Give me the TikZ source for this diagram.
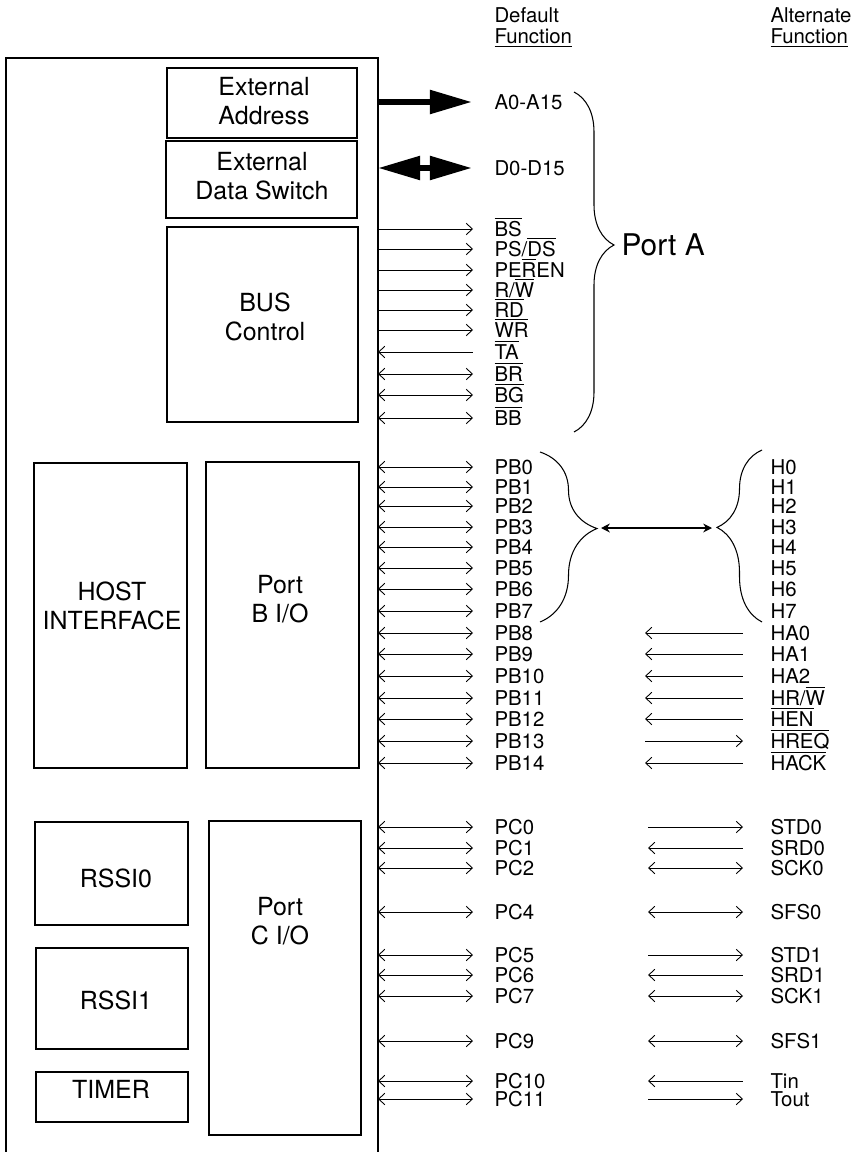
\documentclass[tikz,border=0pt]{standalone}
\usepackage{fontspec}
\setmainfont{TeX Gyre Heros}
\usetikzlibrary{arrows.meta,decorations.pathreplacing}
\newcommand{\ovl}[1]{$\overline{\mbox{#1}}$}
\tikzset{
  >={Straight Barb[length=3.5pt,width=6.5pt]},
  fw/.style={->,line width=0.5pt},
  bw/.style={<-,line width=0.5pt},
  bi/.style={<->,line width=0.5pt},
  sig/.style={anchor=west,inner sep=0pt,text height=8pt,text depth=0pt,font=\fontsize{11.6}{12}\selectfont},
  hdr/.style={anchor=north west,inner sep=0pt,align=left,font=\fontsize{11.6}{12}\selectfont},
  blk/.style={align=center,inner sep=0pt,font=\fontsize{14.2}{16.5}\selectfont},
  bigtip/.tip={Triangle[length=24pt,width=13pt]},
  brc/.style args={#1/#2}{decorate,decoration={brace,amplitude=#1,aspect=#2},line width=0.6pt},
}
\begin{document}
\begin{tikzpicture}[x=0.02cm,y=-0.02cm,line width=0.6pt]
  \useasboundingbox (0,0) rectangle (858,1152);
  \draw (6,1152) -- (6,58) -- (378,58) -- (378,1152);
  \coordinate (edge) at (378,0);
  \coordinate (altx) at (770,0);
  \node[hdr] (dflt) at (494,7) {Default\\\underline{Function}};
  \node[hdr] (altf) at (770,7) {Alternate\\\underline{Function}};
  % blocks inside the chip
  \draw (167,68) rectangle (357,138);  \node[blk] (extA) at (264,101) {External\\Address};
  \draw (166,141) rectangle (357,218); \node[blk] (extD) at (262,176) {External\\Data Switch};
  \draw (167,227) rectangle (358,422); \node[blk] (bus) at (265,317) {BUS\\Control};
  \draw (34,463) rectangle (187,768);  \node[blk] (host) at (112,606) {HOST\\INTERFACE};
  \draw (206,462) rectangle (359,768); \node[blk] (portB) at (280,599) {Port\\B I/O};
  \draw (35,822) rectangle (188,925);  \node[blk] (rssi0) at (116,878) {RSSI0};
  \draw (36,948) rectangle (188,1049); \node[blk] (rssi1) at (116,1000) {RSSI1};
  \draw (36,1072) rectangle (188,1122); \node[blk] (timer) at (111,1089) {TIMER};
  \draw (209,821) rectangle (361,1135); \node[blk] (portC) at (280,921) {Port\\C I/O};
  % port A
  \node[sig] (addr) at (494,102) {A0-A15};
  \node[sig] (data) at (494,168) {D0-D15};
  \draw[-bigtip,line width=3.4pt] (edge |- addr.west) -- ([xshift=-0.44cm]addr.west);
  \draw[bigtip-bigtip,line width=3.4pt] (edge |- data.west) -- ([xshift=-0.44cm]data.west);
  \foreach \y/\s/\d [count=\i] in {229/\ovl{BS}/fw, 249/{PS/\ovl{DS}}/fw, 270/{PE\ovl{R}EN}/fw,
      290/{R/\ovl{W}}/fw, 310/\ovl{RD}/fw, 330/\ovl{WR}/fw, 352/\ovl{TA}/bw,
      374/\ovl{BR}/bi, 395/\ovl{BG}/bi, 418/\ovl{BB}/bi}{
    \node[sig] (a\i) at (494,\y) {\s};
    \draw[\d] (edge |- a\i.west) -- ([xshift=-0.42cm]a\i.west);
  }
  \draw[brc={0.8cm/0.45}] (574,92) -- (574,432);
  \node[blk,anchor=west,font=\fontsize{17}{20}\selectfont] (portA) at (621,245) {Port A};
  % port B
  \foreach \y [count=\i from 0] in {467,487,506,527,547,568,589,611,633,654,676,698,719,741,763}{
    \node[sig] (pb\i) at (494,\y) {PB\i};
    \draw[bi] (edge |- pb\i.west) -- ([xshift=-0.42cm]pb\i.west);
  }
  \foreach \i in {0,...,7}
    \node[sig] (h\i) at (pb\i.west -| altx) {H\i};
  \draw[brc={1.14cm/0.45}] (540,452) -- (540,622);
  \draw[brc={0.9cm/0.55}] (762,622) -- (762,450);
  \coordinate (bL) at (601,528);
  \coordinate (bR) at (712,528);
  \draw[{Stealth[length=5pt,width=5pt]}-{Stealth[length=5pt,width=5pt]},line width=1.1pt] (bL) -- (bR);
  \foreach \i/\s/\d in {8/HA0/bw, 9/HA1/bw, 10/HA2/bw, 11/{HR/\ovl{W}}/bw,
      12/\ovl{HEN}/bw, 13/\ovl{HREQ}/fw, 14/\ovl{HACK}/bw}{
    \node[sig] (h\i) at (pb\i.west -| altx) {\s};
    \draw[\d] ([xshift=-2.5cm]h\i.west) -- ([xshift=-0.54cm]h\i.west);
  }
  % port C
  \foreach \y/\p/\s/\d in {827/0/STD0/fw, 848/1/SRD0/bw, 868/2/SCK0/bi, 912/4/SFS0/bi,
      955/5/STD1/fw, 975/6/SRD1/bw, 996/7/SCK1/bi, 1041/9/SFS1/bi,
      1081/10/Tin/bw, 1099/11/Tout/fw}{
    \node[sig] (pc\p) at (494,\y) {PC\p};
    \draw[bi] (edge |- pc\p.west) -- ([xshift=-0.42cm]pc\p.west);
    \node[sig] (c\p) at (pc\p.west -| altx) {\s};
    \draw[\d] ([xshift=-2.44cm]c\p.west) -- ([xshift=-0.54cm]c\p.west);
  }
\end{tikzpicture}
\end{document}
